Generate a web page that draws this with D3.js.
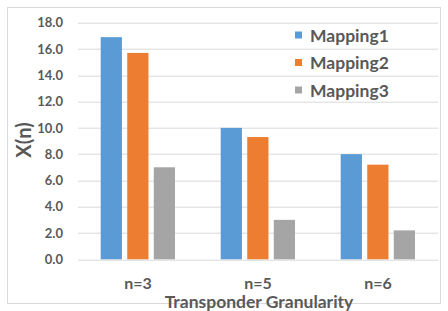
<!DOCTYPE html>
<html>
<head>
<meta charset="utf-8">
<script src="https://cdn.jsdelivr.net/npm/d3@7"></script>
<style>
  body { margin: 0; background: #fff; }
  text { font-family: Lato, "Open Sans", sans-serif; font-weight: bold; fill: #595959; }
</style>
</head>
<body>
<div id="chart"></div>
<script>
// Chart data
var categories = ["n=3", "n=5", "n=6"];
var seriesNames = ["Mapping1", "Mapping2", "Mapping3"];
var mapping1 = [16.9, 10.0, 8.0];
var mapping2 = [15.7, 9.3, 7.2];
var mapping3 = [7.0, 3.0, 2.2];
var yTicks = [0, 2, 4, 6, 8, 10, 12, 14, 16, 18];
var colors = ["#5b9bd5", "#ed7d31", "#a5a5a5"];

var svgWidth = 448;
var svgHeight = 311;
var margin = { top: 22.7, right: 10, bottom: 51.7, left: 78 };
var width = 438 - margin.left;
var height = 259.3 - margin.top;

var svg = d3.select("#chart")
  .append("svg")
  .attr("width", svgWidth)
  .attr("height", svgHeight);

// outer frame
svg.append("rect")
  .attr("x", 7.5).attr("y", 7.5)
  .attr("width", 433).attr("height", 296)
  .attr("fill", "none")
  .attr("stroke", "#d9d9d9");

var chartGroup = svg.append("g")
  .attr("transform", `translate(${margin.left}, ${margin.top})`);

// scales
var x0 = d3.scaleBand().domain(categories).range([0, width]);
var x1 = d3.scaleBand().domain(seriesNames).range([22.7, 97]).paddingInner(0.2);
var y = d3.scaleLinear().domain([0, 18]).range([height, 0]);

// gridlines
chartGroup.selectAll(".grid")
  .data(yTicks)
  .enter()
  .append("line")
  .attr("x1", 0).attr("x2", width)
  .attr("y1", d => Math.round(y(d)) + 0.5)
  .attr("y2", d => Math.round(y(d)) + 0.5)
  .attr("stroke", "#d9d9d9")
  .attr("stroke-width", 1);

// y axis labels
var leftAxis = d3.axisLeft(y).tickValues(yTicks).tickFormat(d3.format(".1f")).tickSize(0).tickPadding(15);
var yAxisG = chartGroup.append("g").call(leftAxis);
yAxisG.select(".domain").remove();
yAxisG.selectAll("text").style("font-size", "13px").attr("fill", "#595959").style("font-family", "Lato");

// bars
var table = categories.map((c, i) => ({ cat: c, vals: [mapping1[i], mapping2[i], mapping3[i]] }));
var groups = chartGroup.selectAll(".group")
  .data(table)
  .enter()
  .append("g")
  .attr("transform", d => `translate(${x0(d.cat)}, 0)`);

groups.selectAll("rect")
  .data(d => d.vals.map((v, j) => ({ name: seriesNames[j], value: v, idx: j })))
  .enter()
  .append("rect")
  .attr("x", d => x1(d.name))
  .attr("width", x1.bandwidth())
  .attr("y", d => y(d.value))
  .attr("height", d => y(0) - y(d.value))
  .attr("fill", d => colors[d.idx]);

// x axis category labels
var bottomAxis = d3.axisBottom(x0).tickSize(0).tickPadding(18);
var xAxisG = chartGroup.append("g")
  .attr("transform", `translate(0, ${height})`)
  .call(bottomAxis);
xAxisG.select(".domain").remove();
xAxisG.selectAll("text").style("font-size", "16px").attr("fill", "#595959").style("font-family", "Lato");

// axis titles
svg.append("text")
  .attr("x", 259)
  .attr("y", 307.5)
  .style("text-anchor", "middle")
  .style("font-size", "17.5px")
  .text("Transponder Granularity");

svg.append("text")
  .attr("transform", "translate(30.5, 140) rotate(-90)")
  .style("text-anchor", "middle")
  .style("font-size", "20px")
  .text("X(n)");

// legend
var legend = svg.selectAll(".legend")
  .data(seriesNames)
  .enter()
  .append("g")
  .attr("transform", (d, i) => `translate(295, ${35 + i * 27.5})`);

legend.append("rect")
  .attr("x", 0).attr("y", -3.5)
  .attr("width", 7).attr("height", 7)
  .attr("fill", (d, i) => colors[i]);

legend.append("text")
  .attr("x", 15)
  .attr("y", 6.5)
  .style("font-size", "17.5px")
  .text(d => d);
</script>
</body>
</html>
